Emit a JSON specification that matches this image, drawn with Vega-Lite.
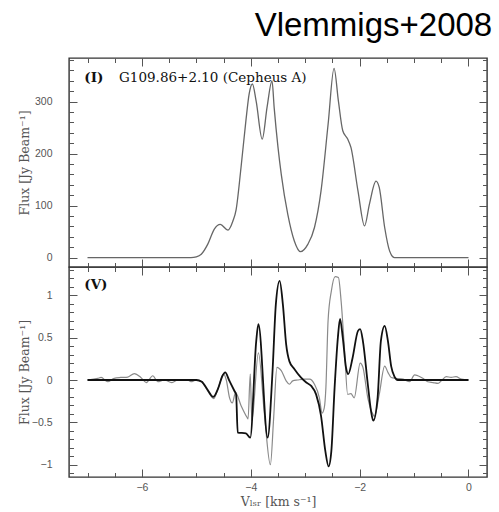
{
  "$schema": "https://vega.github.io/schema/vega-lite/v6.json",
  "padding": {"left": 17, "top": 9, "right": 5, "bottom": 5},
  "title": {"text": "Vlemmigs+2008", "anchor": "end", "fontSize": 33, "font": "Liberation Sans", "fontWeight": "normal", "color": "#000000", "offset": 14, "dx": 4},
  "datasets": {
    "top": [
      {"v": -7, "f": 0}, {"v": -5.1, "f": 0}, {"v": -5.0, "f": 1.5}, {"v": -4.91, "f": 6.5}, {"v": -4.79, "f": 26}, {"v": -4.67, "f": 55}, {"v": -4.56, "f": 64}, {"v": -4.42, "f": 53}, {"v": -4.33, "f": 70}, {"v": -4.27, "f": 92}, {"v": -4.18, "f": 173}, {"v": -4.09, "f": 263}, {"v": -4.03, "f": 315}, {"v": -3.97, "f": 334}, {"v": -3.9, "f": 300}, {"v": -3.79, "f": 228}, {"v": -3.7, "f": 290}, {"v": -3.61, "f": 340}, {"v": -3.57, "f": 288}, {"v": -3.5, "f": 212}, {"v": -3.44, "f": 160}, {"v": -3.32, "f": 83}, {"v": -3.2, "f": 32}, {"v": -3.09, "f": 11.5}, {"v": -2.95, "f": 26}, {"v": -2.83, "f": 58}, {"v": -2.71, "f": 128}, {"v": -2.58, "f": 256}, {"v": -2.47, "f": 364}, {"v": -2.39, "f": 301}, {"v": -2.31, "f": 244}, {"v": -2.22, "f": 228}, {"v": -2.16, "f": 212}, {"v": -2.03, "f": 128}, {"v": -1.91, "f": 61}, {"v": -1.82, "f": 103}, {"v": -1.7, "f": 147}, {"v": -1.64, "f": 135}, {"v": -1.54, "f": 58}, {"v": -1.45, "f": 13}, {"v": -1.36, "f": 0}, {"v": 0, "f": 0}
    ],
    "vg": [
      {"v": -7.0, "f": 0}, {"v": -6.81, "f": 0.02}, {"v": -6.75, "f": 0.03}, {"v": -6.63, "f": -0.02}, {"v": -6.51, "f": 0.02}, {"v": -6.39, "f": 0.03}, {"v": -6.26, "f": 0.035}, {"v": -6.14, "f": 0.075}, {"v": -6.02, "f": 0.03}, {"v": -5.92, "f": -0.03}, {"v": -5.8, "f": 0.05}, {"v": -5.71, "f": -0.02}, {"v": -5.59, "f": 0.0}, {"v": -5.45, "f": -0.03}, {"v": -5.34, "f": 0.0}, {"v": -5.16, "f": 0.0}, {"v": -5.1, "f": -0.02}, {"v": -5.0, "f": 0.0}, {"v": -4.9, "f": -0.02}, {"v": -4.8, "f": -0.12}, {"v": -4.68, "f": -0.22}, {"v": -4.6, "f": -0.1}, {"v": -4.5, "f": 0.07}, {"v": -4.45, "f": 0.0}, {"v": -4.39, "f": -0.21}, {"v": -4.34, "f": -0.27}, {"v": -4.28, "f": -0.15}, {"v": -4.18, "f": -0.3}, {"v": -4.07, "f": -0.44}, {"v": -4.05, "f": -0.46}, {"v": -4.01, "f": 0.07}, {"v": -3.98, "f": -0.48}, {"v": -3.86, "f": 0.32}, {"v": -3.75, "f": -0.4}, {"v": -3.64, "f": -1.0}, {"v": -3.58, "f": -0.45}, {"v": -3.52, "f": 0.15}, {"v": -3.44, "f": 0.11}, {"v": -3.35, "f": -0.01}, {"v": -3.29, "f": -0.05}, {"v": -3.23, "f": -0.01}, {"v": -3.14, "f": 0.0}, {"v": -3.01, "f": 0.01}, {"v": -2.92, "f": 0.01}, {"v": -2.83, "f": -0.05}, {"v": -2.74, "f": -0.21}, {"v": -2.69, "f": -0.39}, {"v": -2.65, "f": -0.33}, {"v": -2.62, "f": -0.09}, {"v": -2.58, "f": 0.7}, {"v": -2.52, "f": 1.05}, {"v": -2.45, "f": 1.22}, {"v": -2.39, "f": 1.21}, {"v": -2.34, "f": 0.93}, {"v": -2.28, "f": 0.38}, {"v": -2.22, "f": -0.17}, {"v": -2.16, "f": -0.16}, {"v": -2.1, "f": -0.21}, {"v": -1.99, "f": 0.2}, {"v": -1.94, "f": 0.15}, {"v": -1.85, "f": -0.21}, {"v": -1.76, "f": -0.4}, {"v": -1.73, "f": -0.43}, {"v": -1.64, "f": -0.17}, {"v": -1.54, "f": 0.165}, {"v": -1.48, "f": 0.09}, {"v": -1.42, "f": 0.03}, {"v": -1.33, "f": 0.02}, {"v": -1.2, "f": 0.01}, {"v": -1.08, "f": -0.02}, {"v": -0.99, "f": 0.06}, {"v": -0.93, "f": 0.05}, {"v": -0.84, "f": 0.02}, {"v": -0.75, "f": -0.02}, {"v": -0.65, "f": -0.03}, {"v": -0.56, "f": -0.04}, {"v": -0.5, "f": -0.01}, {"v": -0.41, "f": 0.04}, {"v": -0.32, "f": 0.03}, {"v": -0.23, "f": 0.04}, {"v": -0.13, "f": 0.01}, {"v": 0.0, "f": 0.0}
    ],
    "vk": [
      {"v": -7.0, "f": 0}, {"v": -5.0, "f": 0}, {"v": -4.9, "f": -0.02}, {"v": -4.8, "f": -0.11}, {"v": -4.69, "f": -0.2}, {"v": -4.6, "f": -0.1}, {"v": -4.52, "f": 0.05}, {"v": -4.47, "f": 0.09}, {"v": -4.4, "f": 0.0}, {"v": -4.3, "f": -0.13}, {"v": -4.27, "f": -0.17}, {"v": -4.24, "f": -0.62}, {"v": -4.09, "f": -0.63}, {"v": -4.01, "f": -0.68}, {"v": -3.9, "f": 0.46}, {"v": -3.86, "f": 0.66}, {"v": -3.69, "f": -0.68}, {"v": -3.6, "f": 0.11}, {"v": -3.54, "f": 0.89}, {"v": -3.47, "f": 1.17}, {"v": -3.41, "f": 0.89}, {"v": -3.35, "f": 0.42}, {"v": -3.29, "f": 0.22}, {"v": -3.2, "f": 0.13}, {"v": -3.08, "f": 0.03}, {"v": -2.98, "f": -0.03}, {"v": -2.89, "f": -0.07}, {"v": -2.8, "f": -0.17}, {"v": -2.71, "f": -0.42}, {"v": -2.63, "f": -0.84}, {"v": -2.57, "f": -1.02}, {"v": -2.52, "f": -0.84}, {"v": -2.46, "f": -0.09}, {"v": -2.4, "f": 0.5}, {"v": -2.36, "f": 0.72}, {"v": -2.31, "f": 0.5}, {"v": -2.25, "f": 0.145}, {"v": -2.21, "f": 0.07}, {"v": -2.13, "f": 0.26}, {"v": -2.03, "f": 0.58}, {"v": -1.99, "f": 0.6}, {"v": -1.94, "f": 0.46}, {"v": -1.85, "f": -0.05}, {"v": -1.79, "f": -0.37}, {"v": -1.75, "f": -0.48}, {"v": -1.67, "f": -0.21}, {"v": -1.61, "f": 0.46}, {"v": -1.54, "f": 0.64}, {"v": -1.48, "f": 0.46}, {"v": -1.42, "f": 0.16}, {"v": -1.36, "f": 0.04}, {"v": -1.3, "f": 0.0}, {"v": 0.0, "f": 0.0}
    ],
    "labTop": [{"x": -7.06, "y": 346, "t": "(I)"}, {"x": -6.42, "y": 346, "t": "G109.86+2.10 (Cepheus A)"}],
    "labBot": [{"x": -7.06, "y": 1.12, "t": "(V)"}]
  },
  "config": {
    "view": {"stroke": "#333333", "strokeWidth": 1.4},
    "axis": {"domain": false, "grid": false, "labelFont": "Liberation Sans", "labelFontSize": 10.5, "labelColor": "#555555", "tickColor": "#555555", "tickWidth": 1, "titleFont": "DejaVu Serif", "titleFontSize": 12.5, "titleColor": "#555555", "titleFontWeight": "normal"}
  },
  "spacing": 0,
  "bounds": "flush",
  "vconcat": [
    {
      "width": 418, "height": 209,
      "resolve": {"axis": {"x": "independent", "y": "independent"}},
      "layer": [
        {
          "data": {"name": "top"},
          "mark": {"type": "line", "color": "#666666", "strokeWidth": 1.3, "interpolate": "monotone"},
          "encoding": {
            "x": {"field": "v", "type": "quantitative", "scale": {"domain": [-7.34, 0.34], "nice": false, "zero": false},
                  "axis": {"orient": "bottom", "values": [-6, -4, -2, 0], "labels": false, "title": null, "tickSize": 8, "offset": -8}},
            "y": {"field": "f", "type": "quantitative", "scale": {"domain": [-18, 384], "nice": false, "zero": false},
                  "axis": {"orient": "left", "values": [0, 100, 200, 300], "format": "d", "tickSize": 8, "offset": -8, "labelPadding": 17, "title": "Flux [Jy Beam⁻¹]", "titleX": -53, "titleBaseline": "middle"}}
          }
        },
        {
          "data": {"name": "top"},
          "mark": {"type": "line", "strokeOpacity": 0},
          "encoding": {
            "x": {"field": "v", "type": "quantitative", "axis": {"orient": "bottom", "values": [-7, -6.5, -5.5, -5, -4.5, -3.5, -3, -2.5, -1.5, -1, -0.5], "labels": false, "title": null, "tickSize": 4.5, "offset": -4.5}},
            "y": {"field": "f", "type": "quantitative", "axis": {"orient": "left", "values": [20, 40, 60, 80, 120, 140, 160, 180, 220, 240, 260, 280, 320, 340, 360, 380], "labels": false, "title": null, "tickSize": 4.5, "offset": -4.5}}
          }
        },
        {
          "data": {"name": "top"},
          "mark": {"type": "line", "strokeOpacity": 0},
          "encoding": {
            "x": {"field": "v", "type": "quantitative", "axis": {"orient": "top", "values": [-6, -4, -2, 0], "labels": false, "title": null, "tickSize": 8, "offset": -8}},
            "y": {"field": "f", "type": "quantitative", "axis": {"orient": "right", "values": [0, 100, 200, 300], "labels": false, "title": null, "tickSize": 8, "offset": -8}}
          }
        },
        {
          "data": {"name": "top"},
          "mark": {"type": "line", "strokeOpacity": 0},
          "encoding": {
            "x": {"field": "v", "type": "quantitative", "axis": {"orient": "top", "values": [-7, -6.5, -5.5, -5, -4.5, -3.5, -3, -2.5, -1.5, -1, -0.5], "labels": false, "title": null, "tickSize": 4.5, "offset": -4.5}},
            "y": {"field": "f", "type": "quantitative", "axis": {"orient": "right", "values": [20, 40, 60, 80, 120, 140, 160, 180, 220, 240, 260, 280, 320, 340, 360, 380], "labels": false, "title": null, "tickSize": 4.5, "offset": -4.5}}
          }
        },
        {
          "data": {"name": "labTop"},
          "transform": [{"filter": "datum.t === '(I)'"}],
          "mark": {"type": "text", "font": "DejaVu Serif", "fontSize": 13.5, "fontWeight": "bold", "align": "left", "baseline": "middle", "color": "#111111"},
          "encoding": {
            "x": {"field": "x", "type": "quantitative", "axis": null},
            "y": {"field": "y", "type": "quantitative", "axis": null},
            "text": {"field": "t"}
          }
        },
        {
          "data": {"name": "labTop"},
          "transform": [{"filter": "datum.t !== '(I)'"}],
          "mark": {"type": "text", "font": "DejaVu Serif", "fontSize": 13.5, "fontWeight": "normal", "align": "left", "baseline": "middle", "color": "#111111"},
          "encoding": {
            "x": {"field": "x", "type": "quantitative", "axis": null},
            "y": {"field": "y", "type": "quantitative", "axis": null},
            "text": {"field": "t"}
          }
        }
      ]
    },
    {
      "width": 418, "height": 210,
      "resolve": {"axis": {"x": "independent", "y": "independent"}},
      "layer": [
        {
          "data": {"name": "vg"},
          "mark": {"type": "line", "color": "#8a8a8a", "strokeWidth": 1.2, "interpolate": "monotone"},
          "encoding": {
            "x": {"field": "v", "type": "quantitative", "scale": {"domain": [-7.34, 0.34], "nice": false, "zero": false},
                  "axis": {"orient": "bottom", "values": [-6, -4, -2, 0], "format": "d", "tickSize": 8, "offset": -8, "labelPadding": 5, "title": "Vₗₛᵣ [km s⁻¹]", "titleY": 32, "titleBaseline": "middle"}},
            "y": {"field": "f", "type": "quantitative", "scale": {"domain": [-1.145, 1.334], "nice": false, "zero": false},
                  "axis": {"orient": "left", "values": [-1, -0.5, 0, 0.5, 1], "format": ".1~f", "tickSize": 8, "offset": -8, "labelPadding": 17, "title": "Flux [Jy Beam⁻¹]", "titleX": -53, "titleBaseline": "middle"}}
          }
        },
        {
          "data": {"name": "vk"},
          "mark": {"type": "line", "color": "#111111", "strokeWidth": 1.8, "interpolate": "monotone"},
          "encoding": {
            "x": {"field": "v", "type": "quantitative", "axis": {"orient": "bottom", "values": [-7, -6.5, -5.5, -5, -4.5, -3.5, -3, -2.5, -1.5, -1, -0.5], "labels": false, "title": null, "tickSize": 4.5, "offset": -4.5}},
            "y": {"field": "f", "type": "quantitative", "axis": {"orient": "left", "values": [-1.1, -0.9, -0.8, -0.7, -0.6, -0.4, -0.3, -0.2, -0.1, 0.1, 0.2, 0.3, 0.4, 0.6, 0.7, 0.8, 0.9, 1.1, 1.2, 1.3], "labels": false, "title": null, "tickSize": 4.5, "offset": -4.5}}
          }
        },
        {
          "data": {"name": "vk"},
          "mark": {"type": "line", "strokeOpacity": 0},
          "encoding": {
            "x": {"field": "v", "type": "quantitative", "axis": {"orient": "top", "values": [-6, -4, -2, 0], "labels": false, "title": null, "tickSize": 8, "offset": -8}},
            "y": {"field": "f", "type": "quantitative", "axis": {"orient": "right", "values": [-1, -0.5, 0, 0.5, 1], "labels": false, "title": null, "tickSize": 8, "offset": -8}}
          }
        },
        {
          "data": {"name": "vk"},
          "mark": {"type": "line", "strokeOpacity": 0},
          "encoding": {
            "x": {"field": "v", "type": "quantitative", "axis": {"orient": "top", "values": [-7, -6.5, -5.5, -5, -4.5, -3.5, -3, -2.5, -1.5, -1, -0.5], "labels": false, "title": null, "tickSize": 4.5, "offset": -4.5}},
            "y": {"field": "f", "type": "quantitative", "axis": {"orient": "right", "values": [-1.1, -0.9, -0.8, -0.7, -0.6, -0.4, -0.3, -0.2, -0.1, 0.1, 0.2, 0.3, 0.4, 0.6, 0.7, 0.8, 0.9, 1.1, 1.2, 1.3], "labels": false, "title": null, "tickSize": 4.5, "offset": -4.5}}
          }
        },
        {
          "data": {"name": "labBot"},
          "mark": {"type": "text", "font": "DejaVu Serif", "fontSize": 13.5, "fontWeight": "bold", "align": "left", "baseline": "middle", "color": "#111111"},
          "encoding": {
            "x": {"field": "x", "type": "quantitative", "axis": null},
            "y": {"field": "y", "type": "quantitative", "axis": null},
            "text": {"field": "t"}
          }
        }
      ]
    }
  ]
}
